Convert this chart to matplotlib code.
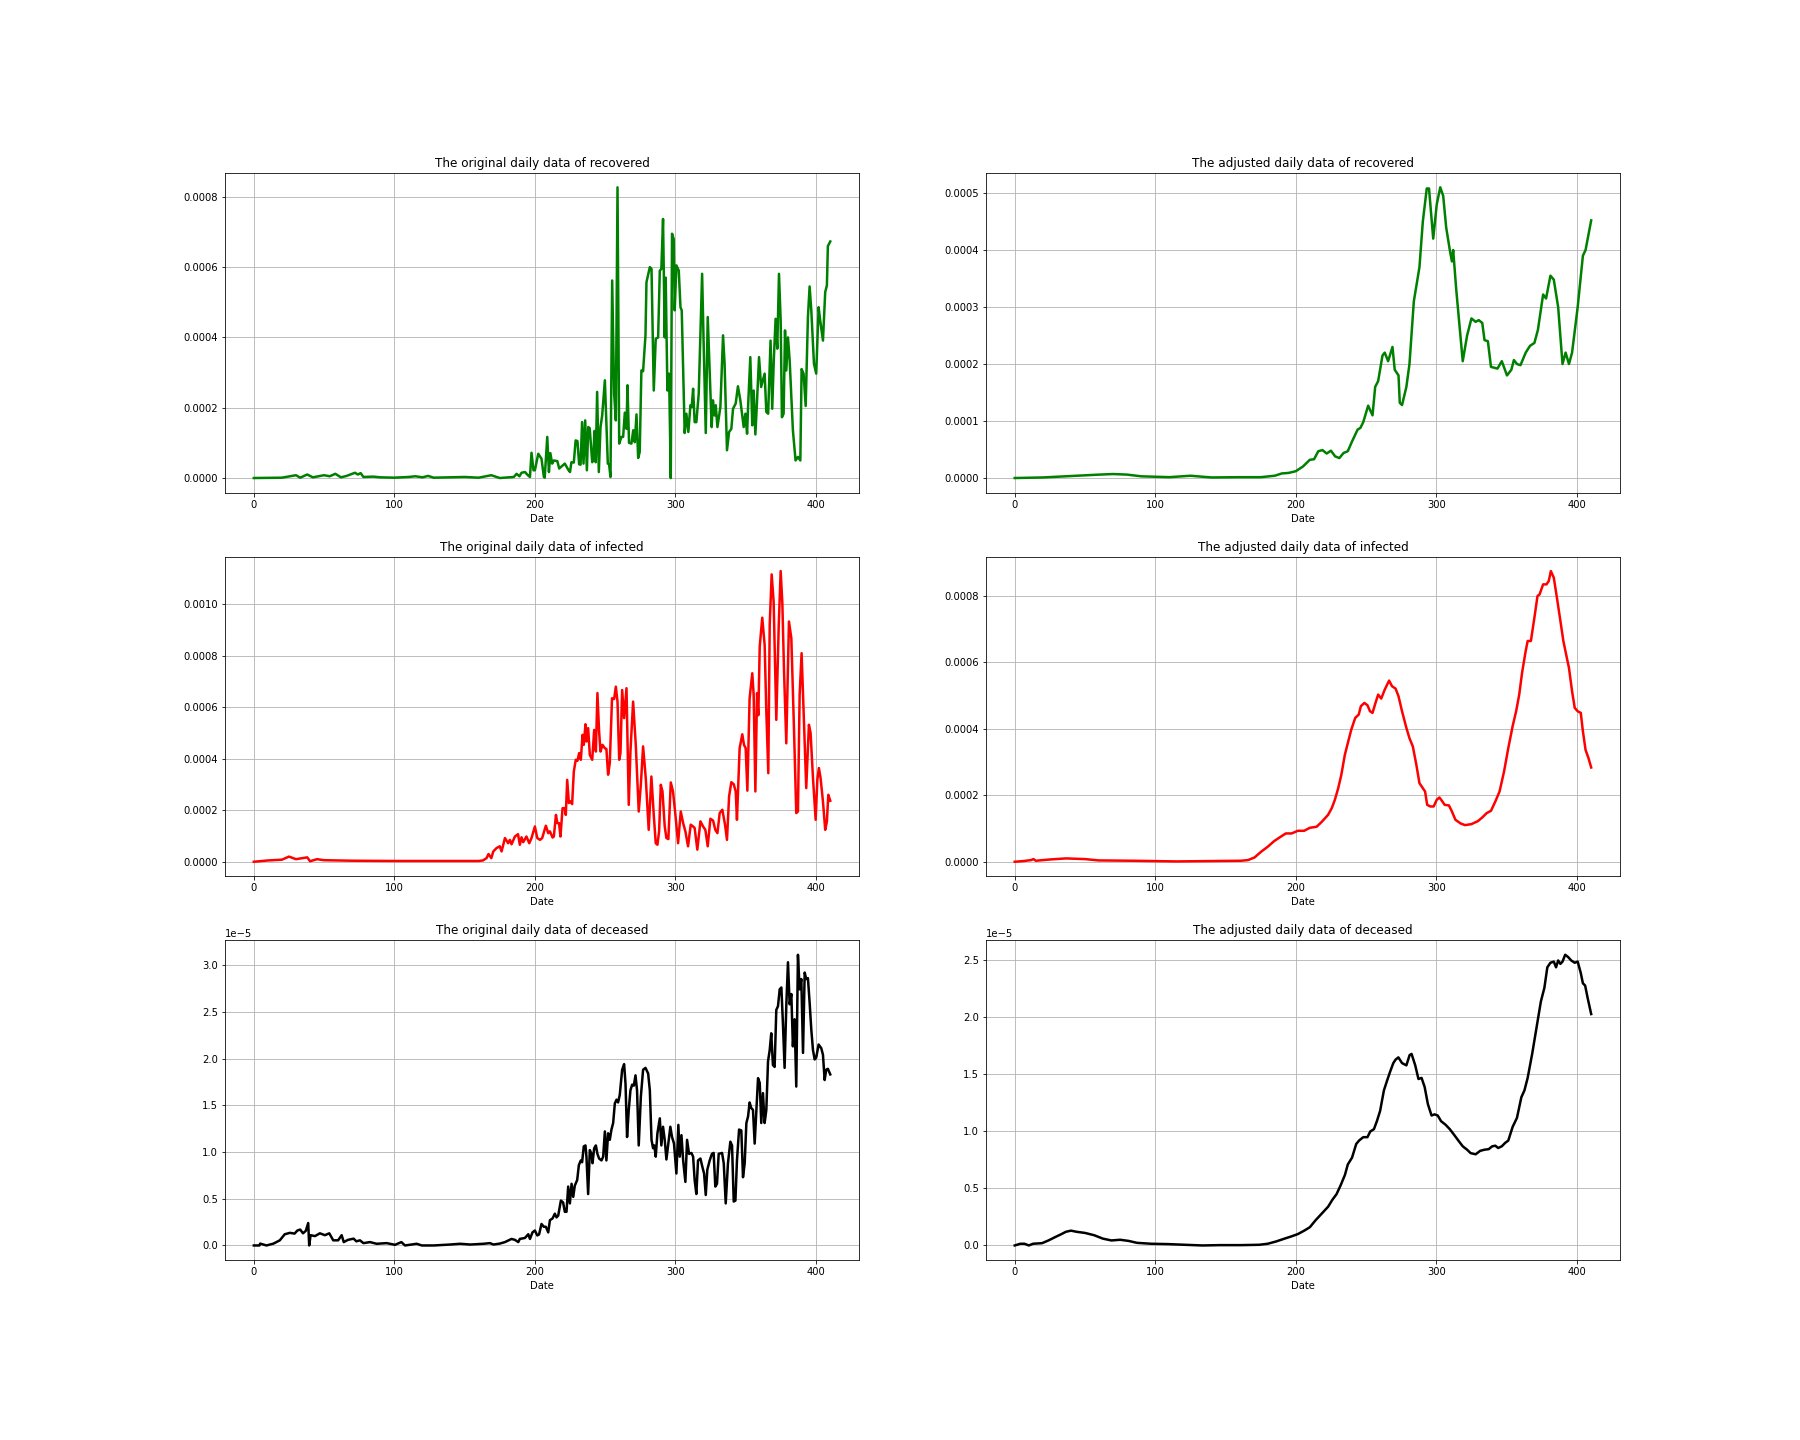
import matplotlib
matplotlib.use("Agg")
import matplotlib.pyplot as plt
import numpy as np

# ---------------- data ----------------
# Original recovered (units of 1e-4)
rec_orig_days = [0, 10, 20, 30, 33, 38, 42, 50, 54, 58, 62, 66, 70, 72, 74, 76, 78, 85, 90, 100, 110, 115, 120, 124, 128, 140, 150, 160,
                 169, 175, 185, 187, 189, 190.5, 193, 195, 196.5, 197.6, 199, 200, 202.4, 204.7, 206.4, 207, 208.8, 210, 211, 212.3, 213.5,
                 216, 217.3, 219, 221.3, 223.7, 225, 226, 227.7, 229, 230.3, 231.5, 232.5, 233.6, 234.6, 235.8, 237, 238, 239, 240.8, 241.5,
                 242.4, 243.3, 244.3, 245.5, 246.7, 247.9, 249.8, 251.9, 252.8, 253.8, 255, 256.4, 257.6, 258.8, 260, 261.6, 262.8, 264,
                 265.2, 265.9, 267, 268.7, 270, 271.1, 272.3, 273.5, 274.6, 275.8, 277, 278.7, 279.4, 281.8, 283, 284.6, 286, 287.7, 288.9,
                 290, 291.2, 292.4, 293.1, 294.3, 295.5, 296.7, 297.6, 298.8, 299.5, 300.7, 302.4, 303.6, 304.5, 306.6, 307.8, 309.2, 310.7,
                 311.6, 312.6, 313.7, 314.9, 316.6, 319, 320.1, 321.6, 323, 324.2, 325.8, 326.7, 327.9, 328.7, 329.9, 332, 333.9, 335, 336.7,
                 338.2, 339.8, 341, 342.9, 344.5, 346.2, 348.6, 349.8, 351, 351.7, 353.3, 354.7, 355.7, 356.9, 358, 359.5, 361, 363.5, 364.7,
                 366, 367.7, 368.9, 370, 371.3, 372.5, 373.7, 374.9, 375.8, 377, 378, 378.9, 380.1, 381.3, 383.6, 385.5, 387.2, 388.9, 389.8,
                 391.2, 392.7, 394.3, 395.5, 396.7, 398.6, 400.2, 401.9, 403, 405, 406.6, 407.8, 408.5, 410.2]
rec_orig_vals = [0, 0.005, 0.01, 0.08, 0.01, 0.1, 0.02, 0.08, 0.05, 0.12, 0.02, 0.06, 0.12, 0.15, 0.1, 0.14, 0.03, 0.04, 0.02, 0.01, 0.03, 0.05, 0.02, 0.06, 0.01, 0.02, 0.03, 0.01,
                 0.08, 0.0, 0.03, 0.12, 0.05, 0.15, 0.17, 0.08, 0.03, 0.72, 0.22, 0.22, 0.69, 0.55, 0.03, 0.01, 1.17, 0.17, 0.71, 0.41, 0.5,
                 0.48, 0.27, 0.33, 0.41, 0.24, 0.17, 0.45, 0.44, 1.07, 1.05, 0.39, 0.38, 1.59, 0.41, 1.64, 0.22, 1.45, 1.42, 0.45, 0.5,
                 1.34, 0.45, 2.45, 0.17, 1.45, 1.78, 2.78, 0.41, 0.39, 0.03, 5.62, 2.4, 1.64, 8.27, 0.98, 1.17, 1.17, 1.86,
                 1.4, 2.64, 1.0, 0.98, 1.36, 1.02, 1.81, 0.57, 0.74, 3.06, 3.04, 4.06, 5.57, 6.0, 5.95, 2.49, 3.96, 4.0, 5.9,
                 5.95, 7.37, 4.0, 5.7, 2.49, 2.97, 0.0, 6.95, 6.8, 4.77, 6.05, 5.9, 4.86, 4.77, 1.28, 1.83, 1.31, 2.07,
                 2.02, 2.54, 1.59, 1.59, 2.4, 5.81, 3.82, 1.28, 4.58, 3.2, 1.45, 2.21, 1.78, 2.07, 1.45, 2.02, 4.06, 3.25, 0.79,
                 1.31, 1.4, 1.97, 2.12, 2.61, 2.21, 1.45, 1.83, 1.26, 2.02, 3.44, 1.5, 2.49, 1.24, 2.12, 3.44, 2.59, 2.97, 1.88,
                 1.83, 3.91, 1.97, 3.35, 4.53, 3.68, 5.81, 4.49, 1.73, 1.83, 4.2, 3.06, 4.0, 3.35, 1.36, 0.5, 0.6, 0.5, 3.1,
                 2.97, 2.05, 4.58, 5.45, 4.77, 3.25, 2.97, 4.86, 4.49, 3.91, 5.29, 5.48, 6.6, 6.73]

# Adjusted recovered (units of 1e-4)
rec_adj_days = [0, 20, 40, 60, 70, 80, 90, 110, 125, 140, 160, 175, 185, 190, 195, 200, 205, 210, 213, 216, 219, 222, 225, 228, 231, 234,
                237, 240, 244, 246, 248, 251.5, 254.6, 256.5, 258.6, 261.7, 263.3, 265.7, 268.8, 270.4, 273.1, 274, 275.6, 278.7, 280.9,
                284, 288, 290.4, 293.2, 294.8, 297.8, 300.3, 302.8, 304.9, 307, 309.6, 311.1, 312, 314.2, 318.8, 321.9, 325, 328, 330.2,
                332.7, 334.3, 336.7, 338.9, 343.5, 346.6, 350.3, 353.4, 355.2, 357.4, 359.9, 363.6, 366.7, 369.8, 372.3, 376, 378.1,
                381.2, 383.6, 386.7, 389.8, 392, 394.4, 396.6, 400.6, 404.3, 406.2, 410.2]
rec_adj_vals = [0, 0.01, 0.035, 0.06, 0.07, 0.06, 0.03, 0.015, 0.04, 0.01, 0.015, 0.015, 0.04, 0.08, 0.09, 0.12, 0.2, 0.32, 0.33, 0.47,
                0.49, 0.43, 0.48, 0.38, 0.35, 0.44, 0.47, 0.64, 0.85, 0.88, 0.98, 1.27, 1.1, 1.6, 1.7, 2.15, 2.2, 2.05, 2.3, 1.9, 1.8,
                1.32, 1.28, 1.6, 2.0, 3.1, 3.7, 4.5, 5.08, 5.08, 4.2, 4.8, 5.1, 4.95, 4.4, 4.0, 3.8, 4.0, 3.3, 2.05, 2.5, 2.8, 2.74,
                2.77, 2.72, 2.42, 2.4, 1.95, 1.92, 2.05, 1.8, 1.9, 2.07, 2.0, 1.98, 2.2, 2.32, 2.37, 2.6, 3.22, 3.15, 3.55, 3.48, 3.0,
                2.0, 2.2, 2.0, 2.2, 3.0, 3.9, 4.0, 4.52]

# Original infected (units of 1e-4)
inf_orig_days = [0, 10, 20, 25, 30, 38, 40, 45, 50, 70, 100, 130, 160, 163, 165.6, 167, 169, 170.4, 172.7, 175, 176.3, 178.7, 181, 182.2,
                 183.4, 185.8, 188, 189.3, 190.5, 191.7, 194, 196, 197.6, 200, 201.7, 203.6, 205.2, 207.8, 209.5, 210.7, 212.6, 213.5, 215,
                 216, 217.2, 218.2, 219.7, 221.3, 222, 223, 224.2, 225.4, 226.5, 227.7, 229.1, 230.3, 231.5, 232.7, 233.9, 234.8, 236,
                 236.7, 237.9, 239.1, 240.8, 242.2, 243.4, 244.5, 245.7, 246.7, 248.1, 249.8, 250.9, 252.1, 253.3, 254.9, 256.4, 257.6,
                 258.8, 260, 260.9, 262.1, 263.5, 265.2, 266.8, 268, 269.9, 271.8, 273.9, 275.4, 277, 278.9, 281, 282.9, 284.6, 286, 287.2,
                 288.4, 289.6, 290.8, 292.4, 293.6, 295, 296.7, 298.3, 300, 301.9, 303.8, 305.5, 307.1, 309, 310.9, 312.6, 313.7, 315.6,
                 317.8, 319.7, 321.3, 323, 324.9, 326.8, 328.4, 329.9, 331.5, 333.4, 335.3, 336.7, 338.2, 339.8, 341.5, 342.9, 343.8, 345.7,
                 347.6, 348.8, 350, 351.2, 352.8, 354.7, 355.7, 356.9, 358.1, 359, 360, 361.8, 363.5, 364.7, 366.1, 367.1, 368.5, 369.9,
                 371.8, 373.5, 374.9, 376.1, 377.3, 378.9, 380.8, 382.5, 384.4, 386, 387.2, 388.4, 389.8, 391.2, 393.1, 395, 396.2, 397.9,
                 399.8, 401, 402.1, 403.3, 405, 406.6, 407.8, 408.8, 410.2]
inf_orig_vals = [0, 0.05, 0.08, 0.2, 0.1, 0.17, 0.02, 0.1, 0.06, 0.04, 0.03, 0.03, 0.03, 0.05, 0.14, 0.3, 0.14, 0.4, 0.53, 0.6, 0.4, 0.92,
                 0.72, 0.85, 0.68, 0.98, 1.07, 0.66, 0.95, 0.76, 0.98, 0.72, 0.92, 1.37, 0.92, 0.85, 0.92, 1.4, 1.11, 1.18, 0.94, 0.98,
                 1.82, 1.5, 1.5, 0.98, 2.08, 2.08, 1.82, 3.18, 2.28, 2.35, 2.24, 3.5, 3.96, 3.92, 4.22, 3.96, 4.93, 4.54, 5.34, 4.67,
                 5.19, 4.15, 3.96, 5.12, 4.28, 6.55, 5.06, 4.28, 4.54, 4.41, 4.38, 3.38, 3.83, 6.35, 6.32, 6.8, 6.22, 3.96, 4.22, 6.67,
                 5.58, 6.74, 2.21, 4.28, 6.22, 4.54, 1.95, 2.99, 4.48, 3.25, 1.24, 3.31, 1.82, 0.72, 0.66, 1.18, 2.99, 2.73, 1.37, 0.92,
                 0.88, 3.08, 2.73, 1.82, 0.72, 1.95, 1.5, 1.18, 0.6, 1.44, 1.37, 1.31, 0.47, 1.57, 1.37, 1.24, 0.6, 1.67, 1.6, 1.24, 1.11,
                 1.89, 2.02, 1.44, 0.85, 2.54, 3.09, 3.01, 2.73, 1.63, 4.41, 4.95, 4.54, 4.41, 2.76, 6.35, 7.32, 6.48, 2.73, 6.55, 5.69,
                 8.36, 9.48, 8.42, 5.83, 3.44, 9.2, 11.16, 10.1, 5.51, 9.13, 11.29, 10.04, 7.39, 4.6, 9.33, 8.68, 5.12, 1.89, 1.95, 6.48,
                 8.1, 5.83, 2.86, 5.32, 5.0, 3.25, 1.63, 3.18, 3.64, 3.25, 2.34, 1.24, 1.56, 2.6, 2.37]

# Adjusted infected (units of 1e-4)
inf_adj_days = [0, 6, 11.7, 13.3, 15, 25.6, 36.4, 50, 59.6, 84, 115, 161, 166, 170.7, 175.3, 180, 184.6, 189.2, 192.9, 197, 201.5, 206,
                210, 214.8, 218.5, 223, 225.6, 227.8, 230.2, 232.4, 234.9, 237, 239.5, 242.3, 244.8, 246.3, 248.8, 251, 252.8, 254.6,
                256.5, 258.6, 260.8, 263.3, 266.4, 268.5, 271, 273.1, 275.6, 278.7, 280.9, 283.3, 285.8, 288, 290.4, 292, 293.5, 295.7,
                298.1, 300.3, 302.2, 304, 305.9, 309, 311.1, 313.6, 317.3, 320.4, 325, 329.6, 332.7, 335.8, 338.9, 342, 345, 348.2, 351.2,
                354.3, 356.8, 359, 361, 363.6, 365, 367.3, 369.8, 372, 373.5, 376, 378.4, 380, 381.5, 383.6, 386, 388.3, 390.4, 392.9,
                394.4, 396.6, 398.5, 400.6, 402.8, 404.3, 406.2, 408.3, 410.2]
inf_adj_vals = [0.01, 0.03, 0.06, 0.09, 0.04, 0.08, 0.11, 0.09, 0.05, 0.04, 0.02, 0.04, 0.06, 0.14, 0.31, 0.46, 0.63, 0.76, 0.86, 0.86,
                0.94, 0.94, 1.03, 1.06, 1.21, 1.42, 1.62, 1.87, 2.22, 2.62, 3.22, 3.57, 3.98, 4.33, 4.43, 4.68, 4.78, 4.71, 4.53, 4.48,
                4.75, 5.03, 4.91, 5.18, 5.45, 5.28, 5.21, 4.98, 4.53, 4.03, 3.72, 3.47, 2.92, 2.37, 2.22, 2.12, 1.72, 1.67, 1.67, 1.87,
                1.94, 1.84, 1.72, 1.7, 1.52, 1.27, 1.16, 1.11, 1.14, 1.23, 1.34, 1.47, 1.54, 1.82, 2.12, 2.72, 3.42, 4.08, 4.53, 5.03,
                5.68, 6.34, 6.64, 6.64, 7.34, 7.99, 8.04, 8.34, 8.34, 8.44, 8.74, 8.54, 7.89, 7.24, 6.64, 6.13, 5.83, 5.13, 4.63, 4.53,
                4.48, 3.93, 3.37, 3.12, 2.84]

# Original deceased (units of 1e-5)
dec_orig_days = [0, 4, 4.5, 9, 14, 18.5, 22, 25.7, 29, 31, 33, 35, 37, 38.7, 39.4, 40.4, 43.5, 47, 50.6, 53.7, 56.5, 60, 62.5, 64, 67,
                 71, 73, 75.5, 78, 82.7, 87.4, 94.5, 100.5, 105, 107.6, 115.9, 119.5, 128, 139.7, 146.8, 154, 163.4, 168, 170.5, 175,
                 178.7, 183.4,
                 185.8, 188.2, 189.3, 192.9, 195.3, 196.5, 198.3, 200, 201.7, 203, 204.7, 206.4, 207.8, 209.5, 210.7, 212.6, 214.2, 215.4,
                 216.6, 218.5, 220.1, 221.3, 222.5, 223.7, 224.9, 226.1, 227.3, 228.4, 230.1, 231.3, 232.7, 233.6, 234.8, 236, 236.7,
                 237.9, 239.1, 240.3, 241, 242.2, 243.4, 244.5, 245.7, 247.4, 248.6, 249.8, 250.9, 252.1, 253.3, 254.5, 255.7, 256.9,
                 258.1, 259.2, 260.4, 262.1, 263.5, 264.5, 265.6, 266.8, 268, 269.2, 270.4, 271.6, 272.7, 273.9, 275.4, 277, 278.7, 280.6,
                 281.8, 283, 284.1, 285, 286, 287.2, 288.9, 290, 291.2, 292.4, 293.6, 294.8, 296.4, 297.6, 299, 300.7, 302.1, 303.1, 304.3,
                 305.5, 307.1, 308.3, 309.7, 311.4, 312.6, 313.7, 314.9, 316.1, 317.8, 319.2, 320.4, 321.6, 322.7, 324.4, 326, 327.2,
                 328.4, 329.6, 330.8, 333.2, 334.4, 335.8, 337.4, 339.1, 340.3, 341.5, 342.7, 343.8, 345.3, 346.9, 348.1, 349.3, 350.5,
                 351.7, 352.8, 354, 355.2, 356.4, 357.6, 358.8, 360, 361.1, 362.3, 363.5, 364.7, 365.9, 367.1, 368.2, 369.4, 370.6, 371.8,
                 373, 374.2, 375.4, 376.5, 377.7, 378.9, 380.1, 381.3, 382.5, 383.6, 384.8, 386, 387.2, 388.4, 389.6, 390.8, 392, 393.1,
                 394.3, 395.5, 396.7, 397.9, 399.1, 400.2, 401.9, 403.8, 405, 406.2, 407.3, 408.5, 410.2]
dec_orig_vals = [0, 0.0, 0.02, 0.0, 0.02, 0.055, 0.12, 0.135, 0.127, 0.16, 0.17, 0.13, 0.157, 0.24, 0.0, 0.11, 0.1, 0.13, 0.11, 0.13,
                 0.055, 0.055, 0.11, 0.036, 0.06, 0.073, 0.044, 0.055, 0.025, 0.036, 0.018, 0.025, 0.007, 0.036, 0.0, 0.018, 0.0,
                 0.0, 0.01, 0.018, 0.01, 0.018, 0.025, 0.01, 0.02, 0.036, 0.07,
                 0.06, 0.036, 0.07, 0.08, 0.12, 0.07, 0.14, 0.16, 0.107, 0.118, 0.23,
                 0.2, 0.2, 0.14, 0.27, 0.29, 0.34, 0.3, 0.32, 0.48, 0.46, 0.36, 0.36, 0.63, 0.45, 0.66, 0.52, 0.64, 0.7, 0.86, 0.91, 0.89,
                 1.06, 1.07, 0.95, 0.55, 1.02, 0.98, 0.88, 1.04, 1.07, 0.98, 0.93, 0.91, 0.95, 1.22, 0.91, 1.2, 1.13, 1.24, 1.31, 1.52,
                 1.56, 1.53, 1.61, 1.88, 1.94, 1.73, 1.16, 1.45, 1.66, 1.72, 1.71, 1.82, 1.66, 1.07, 1.59, 1.88, 1.9, 1.84, 1.66, 1.13,
                 1.04, 1.07, 0.95, 1.2, 1.36, 1.07, 1.27, 1.13, 0.92, 1.07, 1.27, 1.16, 1.09, 0.77, 1.29, 0.95, 1.18, 0.91, 0.68, 1.13,
                 0.98, 0.99, 0.95, 0.7, 0.55, 0.91, 0.93, 0.84, 0.77, 0.54, 0.81, 0.91, 0.98, 0.99, 0.63, 0.66, 0.98, 0.99, 0.88, 0.45,
                 0.88, 1.11, 1.07, 0.47, 0.48, 0.91, 1.24, 1.23, 0.73, 0.88, 1.31, 1.38, 1.53, 1.47, 1.45, 1.09, 1.45, 1.79, 1.74, 1.31,
                 1.63, 1.31, 1.45, 1.97, 2.09, 2.27, 1.93, 1.91, 2.52, 2.56, 2.74, 2.76, 2.38, 1.9, 2.56, 3.03, 2.58, 2.69, 2.13, 2.42,
                 1.7, 3.11, 2.74, 2.85, 2.06, 2.92, 2.85, 2.86, 2.6, 2.31, 2.09, 1.99, 2.01, 2.15, 2.11, 2.04, 1.77, 1.88, 1.89, 1.83]

# Adjusted deceased (units of 1e-5)
dec_adj_days = [0, 4, 7, 10, 13, 19.4, 24, 28.7, 33.3, 36.4, 40, 44, 50, 56.5, 62.7, 68.8, 75, 81, 87, 97, 109, 121, 133.6, 146, 161,
                174, 180, 186, 192, 197, 201.5, 206, 210, 214, 218.5, 223, 226, 229, 232, 235, 237, 240, 243, 245, 248, 251, 253, 255.6,
                257.7, 260, 262.7, 264.8, 267, 269.4, 271, 273, 275.6, 278.7, 281, 282.4, 285, 287.3, 289.5, 291.7, 294, 296.6, 298.8,
                301, 303.4, 306.5, 309.6, 312.7, 315.7, 318.8, 321.9, 324.4, 328, 331.2, 334.3, 337.3, 339.8, 342, 344, 346.6, 349,
                351.2, 354.3, 357.4, 360.5, 362.7, 365, 368.2, 371.3, 374.4, 376.9, 379, 381.2, 383.6, 385.2, 386.7, 388.3, 389.8,
                391.7, 393.8, 396, 398.5, 400.6, 402.8, 404.3, 405.9, 407.7, 410.2]
dec_adj_vals = [0, 0.015, 0.015, 0.0, 0.015, 0.02, 0.044, 0.073, 0.1, 0.12, 0.13, 0.12, 0.11, 0.09, 0.06, 0.044, 0.05, 0.04, 0.023,
                0.015, 0.012, 0.006, 0.0, 0.003, 0.003, 0.006, 0.015, 0.035, 0.06, 0.08, 0.1, 0.13, 0.16, 0.22, 0.28, 0.34, 0.4, 0.45,
                0.53, 0.62, 0.71, 0.77, 0.89, 0.92, 0.95, 0.95, 1.0, 1.02, 1.09, 1.18, 1.36, 1.44, 1.52, 1.6, 1.63, 1.65, 1.6, 1.58,
                1.67, 1.68, 1.58, 1.46, 1.47, 1.39, 1.24, 1.14, 1.15, 1.14, 1.09, 1.06, 1.02, 0.97, 0.92, 0.87, 0.84, 0.81, 0.8, 0.83,
                0.84, 0.845, 0.87, 0.875, 0.855, 0.87, 0.9, 0.92, 1.04, 1.12, 1.3, 1.36, 1.47, 1.68, 1.91, 2.14, 2.26, 2.44, 2.48, 2.49,
                2.44, 2.5, 2.47, 2.49, 2.55, 2.53, 2.5, 2.48, 2.49, 2.39, 2.3, 2.28, 2.17, 2.03]

titles = ["The original daily data of recovered", "The adjusted daily data of recovered",
          "The original daily data of infected", "The adjusted daily data of infected",
          "The original daily data of deceased", "The adjusted daily data of deceased"]
scales = [1e-4, 1e-4, 1e-4, 1e-4, 1e-5, 1e-5]
colors = ["green", "green", "red", "red", "black", "black"]
series = [(rec_orig_days, rec_orig_vals), (rec_adj_days, rec_adj_vals),
          (inf_orig_days, inf_orig_vals), (inf_adj_days, inf_adj_vals),
          (dec_orig_days, dec_orig_vals), (dec_adj_days, dec_adj_vals)]

fig, axes = plt.subplots(3, 2, figsize=(25, 20), dpi=72)
fig.subplots_adjust(left=0.125, right=0.9, bottom=0.125, top=0.88, wspace=0.2, hspace=0.2)

for ax, (d, v), title, sc, col in zip(axes.flat, series, titles, scales, colors):
    ax.plot(np.array(d), np.array(v) * sc, color=col, linewidth=2.5)
    ax.set_title(title)
    ax.set_xlabel("Date")
    ax.grid(True)

fig.savefig("out.png", dpi=72)
